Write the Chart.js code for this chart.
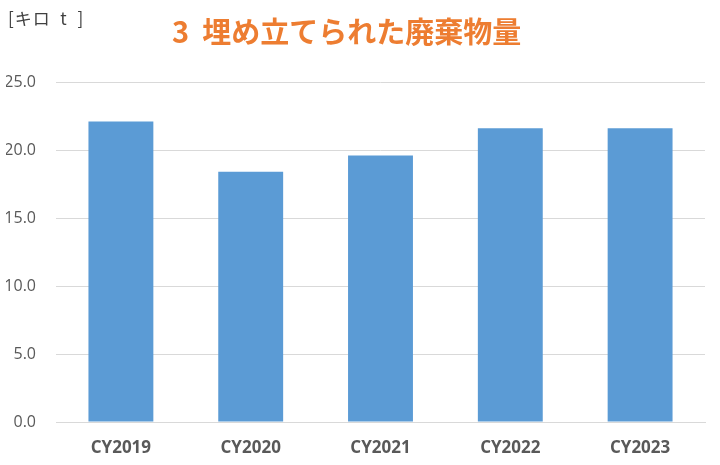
<!DOCTYPE html>
<html>
<head>
<meta charset="utf-8">
<script src="https://cdn.jsdelivr.net/npm/chart.js@4"></script>
<style>
  html, body { margin: 0; padding: 0; background: #fff; }
  #wrap { position: relative; width: 720px; height: 465px; }
  #unit { position: absolute; left: 8px; top: 5px; font: 17px "Noto Sans CJK JP", sans-serif; color: #404040; white-space: nowrap; letter-spacing: 1px; }
  #title { position: absolute; left: 172px; top: 9px; font: bold 29px "Noto Sans CJK JP", sans-serif; color: #ED7D31; white-space: nowrap; }
</style>
</head>
<body>
<div id="wrap">
  <canvas id="myChart" width="720" height="465"></canvas>
  <div id="unit">[キロ&nbsp; t&nbsp;&nbsp;]</div>
  <div id="title">3&nbsp; 埋め立てられた廃棄物量</div>
</div>
<script>
const years = ['CY2019', 'CY2020', 'CY2021', 'CY2022', 'CY2023'];
const landfill = [22.1, 18.4, 19.6, 21.6, 21.6];
const yTicks = [0, 5, 10, 15, 20, 25];

document.addEventListener('DOMContentLoaded', function () {
    const ctx = document.getElementById('myChart').getContext('2d');
    new Chart(ctx, {
        type: 'bar',
        data: {
            labels: years,
            datasets: [{
                label: '埋め立てられた廃棄物量',
                data: landfill,
                backgroundColor: '#5B9BD5',
                barPercentage: 0.5,
                categoryPercentage: 1.0,
            }]
        },
        options: {
            responsive: false,
            animation: false,
            layout: { padding: { top: 82, left: 6, right: 15, bottom: 0 } },
            plugins: { legend: { display: false }, tooltip: { enabled: false } },
            scales: {
                x: {
                    grid: { display: false, drawTicks: false },
                    border: { color: '#D9D9D9', width: 1 },
                    ticks: {
                        padding: 16,
                        color: '#595959',
                        font: { family: '"Liberation Sans Narrow", "Open Sans", sans-serif', size: 17, weight: 'bold' },
                    },
                    afterFit: s => { s.height = 43; },
                },
                y: {
                    min: 0,
                    max: 25,
                    afterBuildTicks: s => { s.ticks = yTicks.map(v => ({ value: v })); },
                    grid: { color: '#D9D9D9', drawTicks: false },
                    border: { display: false },
                    ticks: {
                        padding: 20,
                        color: '#595959',
                        font: { family: '"Liberation Sans Narrow", "Open Sans", sans-serif', size: 16 },
                        callback: v => v.toFixed(1),
                    },
                    afterFit: s => { s.width = 50; },
                }
            }
        }
    });
});
</script>
</body>
</html>
